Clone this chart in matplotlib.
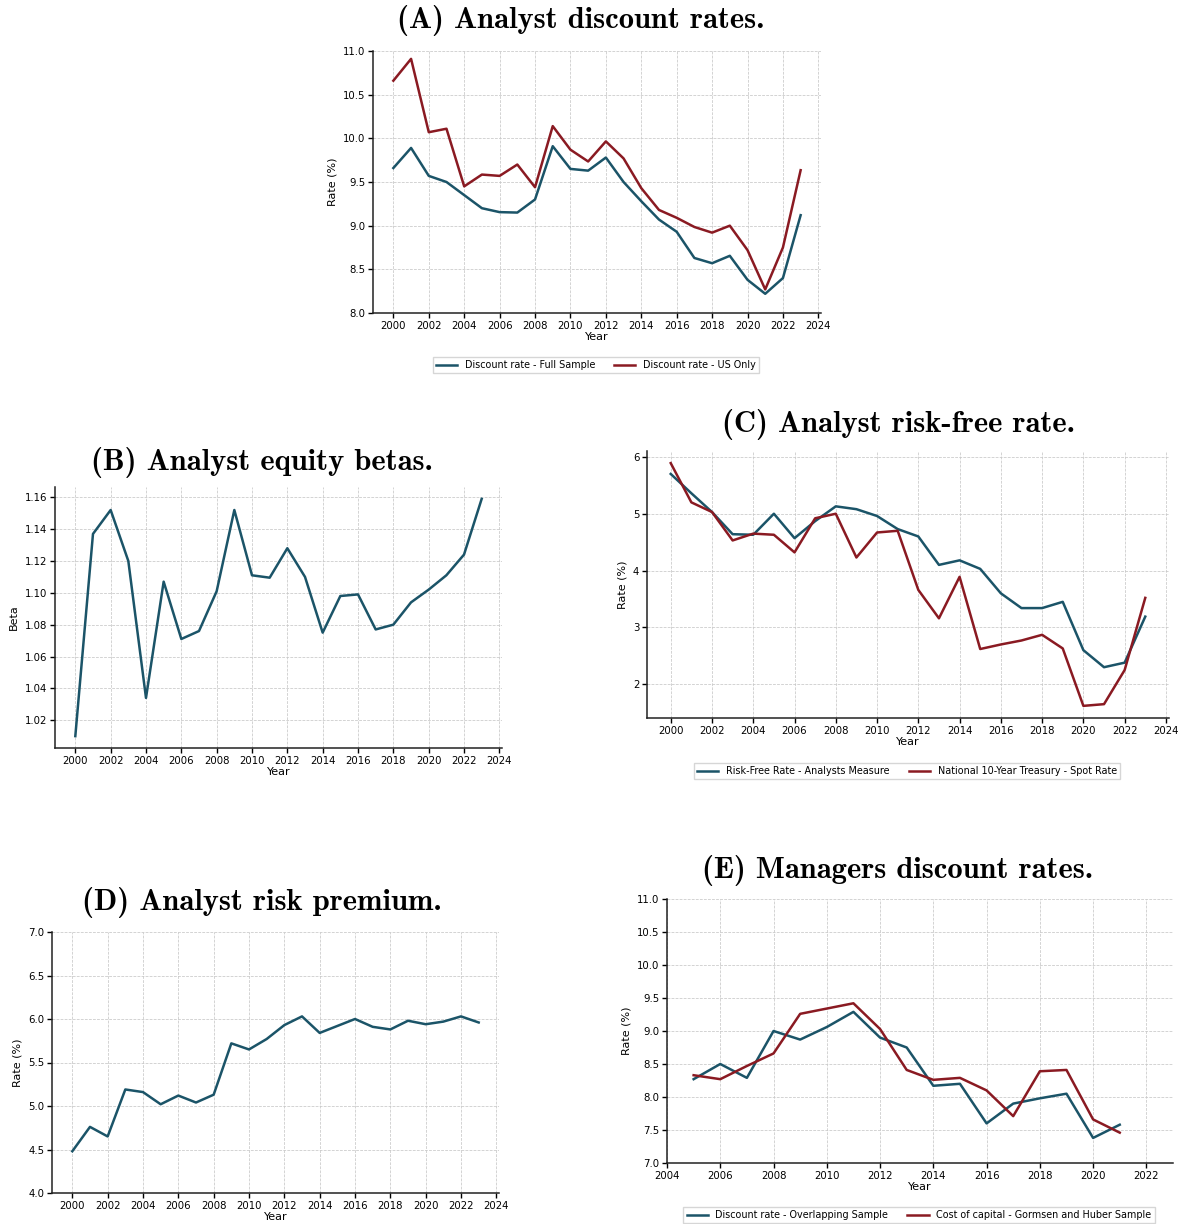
import os
import numpy as np
import matplotlib
matplotlib.use("Agg")
import matplotlib.pyplot as plt
from matplotlib.font_manager import FontProperties

# ---- data ----
years = list(range(2000, 2024))
years_mgr = list(range(2005, 2022))

dr_full = [9.66, 9.89, 9.57, 9.50, 9.35, 9.20, 9.155, 9.15, 9.30, 9.91, 9.65, 9.63,
           9.78, 9.50, 9.28, 9.07, 8.93, 8.63, 8.57, 8.655, 8.38, 8.22, 8.40, 9.12]
dr_us = [10.66, 10.91, 10.07, 10.11, 9.45, 9.585, 9.57, 9.70, 9.44, 10.14, 9.87, 9.735,
         9.965, 9.77, 9.43, 9.18, 9.09, 8.985, 8.92, 9.00, 8.72, 8.27, 8.75, 9.635]

beta = [1.010, 1.137, 1.152, 1.120, 1.034, 1.107, 1.071, 1.076, 1.101, 1.152, 1.111, 1.1095,
        1.128, 1.110, 1.075, 1.098, 1.099, 1.077, 1.080, 1.094, 1.102, 1.111, 1.124, 1.159]

rf_analyst = [5.70, 5.36, 5.03, 4.64, 4.63, 5.00, 4.57, 4.87, 5.13, 5.08, 4.96, 4.73,
              4.60, 4.10, 4.18, 4.03, 3.60, 3.34, 3.34, 3.45, 2.60, 2.30, 2.38, 3.19]
rf_treasury = [5.89, 5.20, 5.03, 4.53, 4.65, 4.63, 4.32, 4.92, 5.00, 4.23, 4.67, 4.70,
               3.66, 3.16, 3.89, 2.62, 2.70, 2.77, 2.87, 2.63, 1.62, 1.65, 2.25, 3.52]

risk_premium = [4.48, 4.76, 4.65, 5.19, 5.16, 5.02, 5.12, 5.04, 5.13, 5.72, 5.65, 5.77,
                5.93, 6.03, 5.84, 5.92, 6.00, 5.91, 5.88, 5.98, 5.94, 5.97, 6.03, 5.96]

mgr_overlap = [8.27, 8.50, 8.29, 9.00, 8.87, 9.06, 9.29, 8.90, 8.75, 8.17, 8.20, 7.60,
               7.90, 7.98, 8.05, 7.38, 7.58]
mgr_gh = [8.33, 8.27, 8.47, 8.66, 9.26, 9.34, 9.42, 9.03, 8.41, 8.26, 8.29, 8.10,
          7.71, 8.39, 8.41, 7.66, 7.46]

TEAL = "#1b5468"
RED = "#8a1a22"
LW = 1.8

W, H = 1179, 1224
fig = plt.figure(figsize=(W / 100, H / 100), dpi=100)

title_font = FontProperties(fname=os.path.join(matplotlib.get_data_path(), "fonts", "ttf", "cmb10.ttf"),
                            size=22)


def add_panel(left, top, right, bottom):
    ax = fig.add_axes([left / W, 1 - bottom / H, (right - left) / W, (bottom - top) / H])
    ax.spines["top"].set_visible(False)
    ax.spines["right"].set_visible(False)
    for s in ("left", "bottom"):
        ax.spines[s].set_linewidth(1.1)
        ax.spines[s].set_color("#222222")
    ax.tick_params(direction="out", length=3.5, width=1.0, labelsize=7.3, pad=2)
    ax.grid(True, linestyle="--", linewidth=0.55, color="#c8c8c8")
    ax.set_axisbelow(True)
    ax.set_xlabel("Year", fontsize=8, labelpad=1)
    return ax


def title(text, x, y):
    fig.text(x / W, 1 - y / H, text, ha="center", va="center", fontproperties=title_font)


def legend(ax, x, y):
    ax.legend(loc="center", bbox_to_anchor=(x / W, 1 - y / H), bbox_transform=fig.transFigure,
              ncol=2, fontsize=6.9, frameon=True, handlelength=2.2, columnspacing=2.0,
              borderpad=0.35, edgecolor="#cccccc", fancybox=False)


# (A) analyst discount rates
ax = add_panel(373, 51, 821, 313)
ax.plot(years, dr_full, color=TEAL, lw=LW, label="Discount rate - Full Sample")
ax.plot(years, dr_us, color=RED, lw=LW, label="Discount rate - US Only")
ax.set_ylim(8, 11)
ax.set_xticks(range(2000, 2025, 2))
ax.set_ylabel("Rate (%)", fontsize=8)
title("(A) Analyst discount rates.", 581, 20)
legend(ax, 596, 365)

# (B) equity betas
ax = add_panel(55, 487, 502, 748)
ax.plot(years, beta, color=TEAL, lw=LW)
ax.set_xticks(range(2000, 2025, 2))
ax.set_yticks(np.arange(1.02, 1.161, 0.02))
ax.set_ylabel("Beta", fontsize=8)
title("(B) Analyst equity betas.", 262, 462)

# (C) risk-free rate
ax = add_panel(647, 451, 1169, 718)
ax.plot(years, rf_analyst, color=TEAL, lw=LW, label="Risk-Free Rate - Analysts Measure")
ax.plot(years, rf_treasury, color=RED, lw=LW, label="National 10-Year Treasury - Spot Rate")
ax.set_xticks(range(2000, 2025, 2))
ax.set_yticks([2, 3, 4, 5, 6])
ax.set_ylabel("Rate (%)", fontsize=8)
title("(C) Analyst risk-free rate.", 898, 425)
legend(ax, 907, 771)

# (D) risk premium
ax = add_panel(52, 932, 499, 1193)
ax.plot(years, risk_premium, color=TEAL, lw=LW)
ax.set_ylim(4, 7)
ax.set_xticks(range(2000, 2025, 2))
ax.set_ylabel("Rate (%)", fontsize=8)
title("(D) Analyst risk premium.", 262, 902)

# (E) managers discount rates
ax = add_panel(667, 899, 1173, 1163)
ax.plot(years_mgr, mgr_overlap, color=TEAL, lw=LW, label="Discount rate - Overlapping Sample")
ax.plot(years_mgr, mgr_gh, color=RED, lw=LW, label="Cost of capital - Gormsen and Huber Sample")
ax.set_xlim(2004, 2023)
ax.set_ylim(7, 11)
ax.set_xticks(range(2004, 2023, 2))
ax.set_ylabel("Rate (%)", fontsize=8)
title("(E) Managers discount rates.", 898, 870)
legend(ax, 919, 1215)

fig.savefig("out.png", dpi=100)
